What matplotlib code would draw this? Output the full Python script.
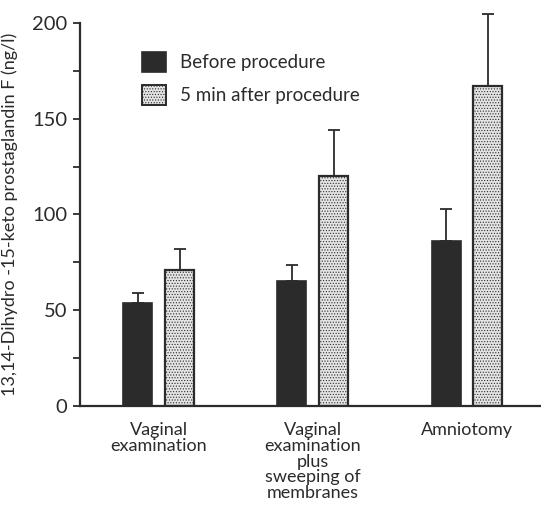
import matplotlib
matplotlib.use("Agg")
import matplotlib.pyplot as plt
from matplotlib.patches import Patch
import numpy as np

# values (ng/l)
procedures = ["Vaginal\nexamination",
              "Vaginal\nexamination\nplus\nsweeping of\nmembranes",
              "Amniotomy"]
before = [53.5, 65, 86]
before_err = [5.5, 8.5, 17]
after = [71, 120, 167]
after_err = [11, 24, 38]

INK = "#2b2b2b"
plt.rcParams["font.family"] = ["Lato", "DejaVu Sans"]
plt.rcParams["hatch.color"] = "#6a6a6a"
plt.rcParams["hatch.linewidth"] = 0.5

fig = plt.figure(figsize=(5.41, 5.07), dpi=100)
ax = fig.add_axes([0.148, 0.2, 0.852, 0.754])

x = np.arange(len(procedures))
w = 0.188
off = 0.136
stipple = "......"

ax.bar(x - off, before, w, color=INK, edgecolor=INK, lw=1.2, zorder=2)
ax.bar(x + off, after, w, color="#e4e4e4", edgecolor=INK, lw=1.6,
       hatch=stipple, zorder=2)
ax.errorbar(x - off, before, yerr=[np.zeros(3), before_err], fmt="none",
            ecolor=INK, elinewidth=1.3, capsize=4, capthick=1.3,
            clip_on=False, zorder=1)
ax.errorbar(x + off, after, yerr=[np.zeros(3), after_err], fmt="none",
            ecolor=INK, elinewidth=1.3, capsize=4, capthick=1.3,
            clip_on=False, zorder=1)

ax.set_xlim(-0.51, 2.48)
ax.set_ylim(0, 200)
ax.set_yticks([0, 50, 100, 150, 200])
ax.set_yticks([25, 75, 125, 175], minor=True)
ax.tick_params(axis="y", which="both", direction="out", length=5,
               width=1.3, color=INK, labelsize=14.5, labelcolor=INK, pad=4)
ax.set_xticks(x)
ax.set_xticklabels(procedures, fontsize=13, color=INK, linespacing=0.98,
                   va="top")
ax.tick_params(axis="x", length=0, pad=12)
ax.set_ylabel("13,14-Dihydro -15-keto prostaglandin F (ng/l)", fontsize=13,
              color=INK)
ax.yaxis.set_label_coords(-0.135, 0.5)

for s in ("top", "right"):
    ax.spines[s].set_visible(False)
for s in ("left", "bottom"):
    ax.spines[s].set_linewidth(1.6)
    ax.spines[s].set_color(INK)

handles = [Patch(facecolor=INK, edgecolor=INK, lw=1.2),
           Patch(facecolor="#e4e4e4", edgecolor=INK, lw=1.4, hatch=stipple)]
ax.legend(handles, ["Before procedure", "5 min after procedure"],
          loc="upper left", bbox_to_anchor=(0.134, 0.925), frameon=False,
          fontsize=13.5, handlelength=1.28, handleheight=1.25,
          labelspacing=0.7, handletextpad=0.75, labelcolor=INK,
          borderpad=0, borderaxespad=0)

fig.savefig("out.png", dpi=100)
